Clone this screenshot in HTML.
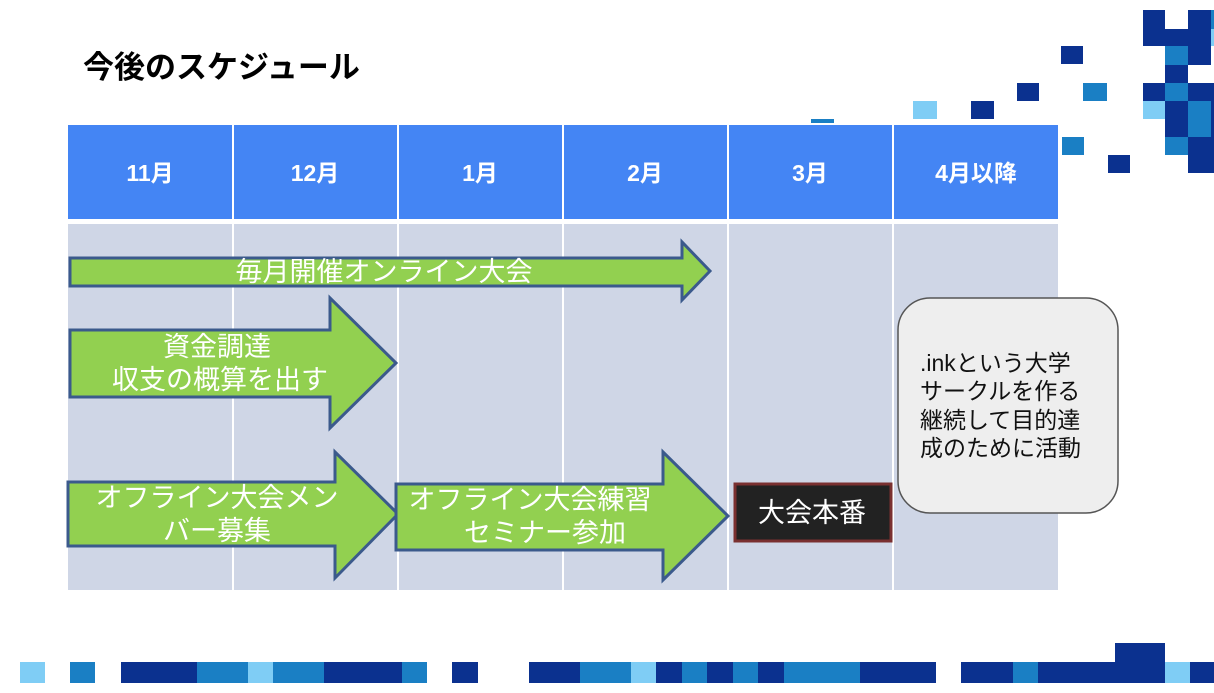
<!DOCTYPE html>
<html><head><meta charset="utf-8"><style>
html,body{margin:0;padding:0;background:#fff;}
svg{display:block;font-family:"Liberation Sans","Noto Sans CJK JP",sans-serif;}
</style></head><body>
<svg width="1214" height="693" viewBox="0 0 1214 693" xmlns="http://www.w3.org/2000/svg">
<rect width="1214" height="693" fill="#fff"/>
<g>
<rect x="1061" y="46" width="22" height="18" fill="#0b318f"/>
<rect x="1017" y="83" width="22" height="18" fill="#0b318f"/>
<rect x="1083" y="83" width="24" height="18" fill="#1a7fc4"/>
<rect x="913" y="101" width="24" height="18" fill="#7fcdf5"/>
<rect x="971" y="101" width="23" height="18" fill="#0b318f"/>
<rect x="811" y="119" width="23" height="4" fill="#1a7fc4"/>
<rect x="1062" y="137" width="22" height="18" fill="#1a7fc4"/>
<rect x="1108" y="155" width="22" height="18" fill="#0b318f"/>
<rect x="1143" y="10" width="22" height="36" fill="#0b318f"/>
<rect x="1143" y="83" width="22" height="18" fill="#0b318f"/>
<rect x="1143" y="101" width="22" height="18" fill="#7fcdf5"/>
<rect x="1165" y="29" width="23" height="17" fill="#0b318f"/>
<rect x="1165" y="46" width="23" height="19" fill="#1a7fc4"/>
<rect x="1165" y="65" width="23" height="18" fill="#0b318f"/>
<rect x="1165" y="83" width="23" height="18" fill="#1a7fc4"/>
<rect x="1165" y="101" width="23" height="36" fill="#0b318f"/>
<rect x="1165" y="137" width="23" height="18" fill="#1a7fc4"/>
<rect x="1188" y="10" width="23" height="55" fill="#0b318f"/>
<rect x="1188" y="83" width="23" height="18" fill="#0b318f"/>
<rect x="1188" y="101" width="23" height="36" fill="#1a7fc4"/>
<rect x="1188" y="137" width="23" height="36" fill="#0b318f"/>
<rect x="1211" y="10" width="3" height="19" fill="#1a7fc4"/>
<rect x="1211" y="29" width="3" height="17" fill="#7fcdf5"/>
<rect x="1211" y="83" width="3" height="90" fill="#0b318f"/>
</g>
<g>
<rect x="20" y="662" width="25" height="21" fill="#7fcdf5"/>
<rect x="70" y="662" width="25" height="21" fill="#1a7fc4"/>
<rect x="121" y="662" width="76" height="21" fill="#0b318f"/>
<rect x="197" y="662" width="51" height="21" fill="#1a7fc4"/>
<rect x="248" y="662" width="25" height="21" fill="#7fcdf5"/>
<rect x="273" y="662" width="51" height="21" fill="#1a7fc4"/>
<rect x="324" y="662" width="78" height="21" fill="#0b318f"/>
<rect x="402" y="662" width="25" height="21" fill="#1a7fc4"/>
<rect x="452" y="662" width="26" height="21" fill="#0b318f"/>
<rect x="529" y="662" width="51" height="21" fill="#0b318f"/>
<rect x="580" y="662" width="51" height="21" fill="#1a7fc4"/>
<rect x="631" y="662" width="25" height="21" fill="#7fcdf5"/>
<rect x="656" y="662" width="26" height="21" fill="#0b318f"/>
<rect x="682" y="662" width="25" height="21" fill="#1a7fc4"/>
<rect x="707" y="662" width="26" height="21" fill="#0b318f"/>
<rect x="733" y="662" width="25" height="21" fill="#1a7fc4"/>
<rect x="758" y="662" width="26" height="21" fill="#0b318f"/>
<rect x="784" y="662" width="76" height="21" fill="#1a7fc4"/>
<rect x="860" y="662" width="76" height="21" fill="#0b318f"/>
<rect x="961" y="662" width="52" height="21" fill="#0b318f"/>
<rect x="1013" y="662" width="25" height="21" fill="#1a7fc4"/>
<rect x="1038" y="662" width="127" height="21" fill="#0b318f"/>
<rect x="1115" y="643" width="50" height="40" fill="#0b318f"/>
<rect x="1165" y="662" width="25" height="21" fill="#7fcdf5"/>
<rect x="1190" y="662" width="24" height="21" fill="#0b318f"/>
</g>
<text x="83" y="78" font-size="31" font-weight="bold" fill="#000">今後のスケジュール</text>
<g fill="#4485f4">
<rect x="68" y="125" width="164" height="94"/><rect x="234" y="125" width="163" height="94"/>
<rect x="399" y="125" width="163" height="94"/><rect x="564" y="125" width="163" height="94"/>
<rect x="729" y="125" width="163" height="94"/><rect x="894" y="125" width="164" height="94"/>
</g>
<g fill="#cfd6e6">
<rect x="68" y="224" width="164" height="366"/><rect x="234" y="224" width="163" height="366"/>
<rect x="399" y="224" width="163" height="366"/><rect x="564" y="224" width="163" height="366"/>
<rect x="729" y="224" width="163" height="366"/><rect x="894" y="224" width="164" height="366"/>
</g>
<g fill="#fff" font-size="23" font-weight="bold" text-anchor="middle">
<text x="150" y="181">11月</text><text x="315" y="181">12月</text><text x="480" y="181">1月</text>
<text x="645" y="181">2月</text><text x="810" y="181">3月</text><text x="976" y="181">4月以降</text>
</g>
<g fill="#92d050" stroke="#3b5a8c" stroke-width="3" stroke-linejoin="miter">
<polygon points="70,258 682,258 682,242 710,271 682,300 682,286 70,286"/>
<polygon points="70,330 330,330 330,298 396,363 330,428 330,397 70,397"/>
<polygon points="68,482 335,482 335,452 398,514 335,578 335,546 68,546"/>
<polygon points="396,484 663,484 663,452 728,516 663,580 663,550 396,550"/>
</g>
<g fill="#fff" font-size="27" text-anchor="middle">
<text x="384" y="281">毎月開催オンライン大会</text>
<text x="217" y="356">資金調達</text>
<text x="220" y="389">収支の概算を出す</text>
<text x="217" y="507">オフライン大会メン</text>
<text x="217" y="540">バー募集</text>
<text x="530" y="509">オフライン大会練習</text>
<text x="545" y="542">セミナー参加</text>
</g>
<rect x="735" y="484" width="156" height="57" fill="#222" stroke="#7a3030" stroke-width="3"/>
<text x="812" y="522" font-size="27" fill="#fff" text-anchor="middle">大会本番</text>
<rect x="898" y="298" width="220" height="215" rx="32" fill="#eeeeee" stroke="#555" stroke-width="1.5"/>
<g font-size="23" fill="#111">
<text x="920" y="371">.inkという大学</text>
<text x="920" y="399">サークルを作る</text>
<text x="920" y="428">継続して目的達</text>
<text x="920" y="456">成のために活動</text>
</g>
</svg>
</body></html>
